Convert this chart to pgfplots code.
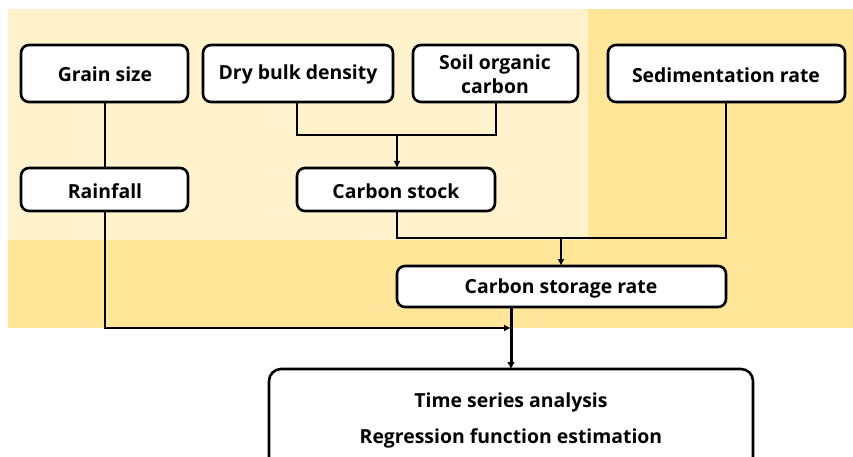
\documentclass[border=0pt]{standalone}
\usepackage{pgfplots}
\pgfplotsset{compat=1.18}
\usepackage{fontspec}
\setmainfont{Open Sans}
\usetikzlibrary{arrows.meta}
\definecolor{lightY}{HTML}{FFF2CC}
\definecolor{darkY}{HTML}{FFE699}
\begin{document}
\begin{tikzpicture}
\begin{axis}[
  width=853pt, height=457pt, scale only axis,
  xmin=0, xmax=853, ymin=0, ymax=457, y dir=reverse,
  hide axis, clip=true,
]
% backgrounds
\fill[darkY] (8,9) rectangle (853,328);
\fill[lightY] (8,9) rectangle (588,240);
% boxes
\tikzset{bx/.style={draw=black, fill=white, line width=2.6pt, rounded corners=8pt},
         lab/.style={font=\fontsize{19.4}{24.5}\selectfont\bfseries, align=center}}
\draw[bx] (21,45) rectangle (188,102);
\draw[bx] (203,45) rectangle (393,102);
\draw[bx] (413,45) rectangle (578,102);
\draw[bx] (608,45) rectangle (845,102);
\draw[bx] (21,168) rectangle (188,211);
\draw[bx] (297,168) rectangle (495,211);
\draw[bx] (397,266) rectangle (726,307);
\draw[draw=black, line width=2.6pt, rounded corners=12pt] (269,470) -- (269,369) -- (753,369) -- (753,470);
% connectors
\addplot[black, line width=2.2pt, mark=none] coordinates {(105,102) (105,168)};
\addplot[black, line width=2.2pt, mark=none] coordinates {(297,102) (297,135) (496,135) (496,102)};
\addplot[black, line width=2.2pt, mark=none, -{Latex[length=7pt,width=7pt]}] coordinates {(397,135) (397,168)};
\addplot[black, line width=2.2pt, mark=none] coordinates {(397,211) (397,238) (726,238) (726,102)};
\addplot[black, line width=2.2pt, mark=none, -{Latex[length=7pt,width=7pt]}] coordinates {(561,238) (561,266)};
\addplot[black, line width=2.2pt, mark=none, -{Latex[length=7pt,width=7pt]}] coordinates {(105,211) (105,328) (511,328)};
\addplot[black, line width=3pt, mark=none, -{Latex[length=7pt,width=8pt]}] coordinates {(511,307) (511,369)};
% labels
\node[lab] at (105,74) {Grain size};
\node[lab] at (298,74) {Dry bulk density};
\node[lab] at (495,74) {Soil organic\\carbon};
\node[lab] at (726,75) {Sedimentation rate};
\node[lab] at (105,191) {Rainfall};
\node[lab] at (396,191) {Carbon stock};
\node[lab] at (561,288) {Carbon storage rate};
\node[lab] at (511,402) {Time series analysis};
\node[lab] at (511,438) {Regression function estimation};
\end{axis}
\pgfresetboundingbox
\useasboundingbox (current axis.south west) rectangle (current axis.north east);
\end{tikzpicture}
\end{document}
